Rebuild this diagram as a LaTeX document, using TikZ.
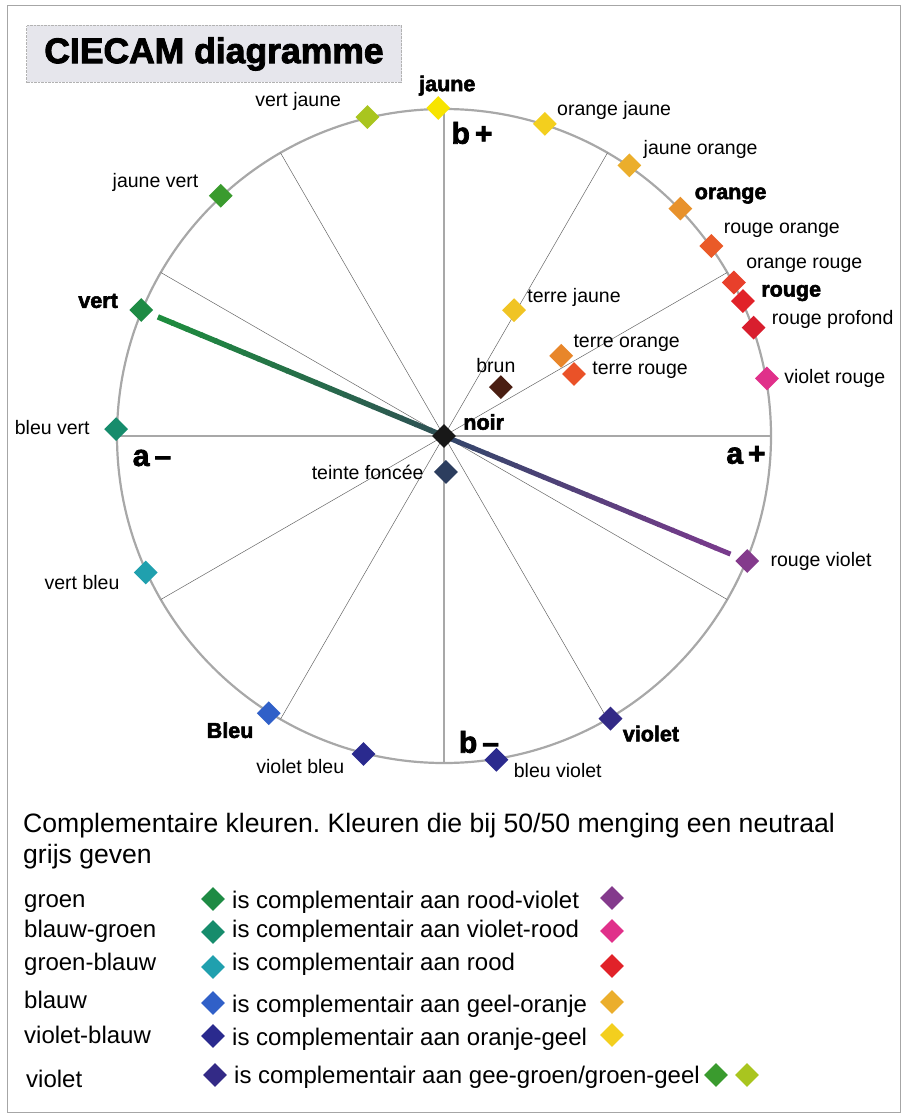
\documentclass[tikz,border=0pt]{standalone}
\usepackage{fontspec}
\setmainfont{Liberation Sans}
\newfontfamily\heavyfont[FakeBold=2.5]{Liberation Sans Bold}
\usetikzlibrary{shapes.geometric,positioning,calc,backgrounds}

\definecolor{cJaune}{HTML}{F7E400}
\definecolor{cVertJaune}{HTML}{A9C51F}
\definecolor{cJauneVert}{HTML}{3A9B2E}
\definecolor{cVert}{HTML}{1E8B44}
\definecolor{cBleuVert}{HTML}{168C6C}
\definecolor{cVertBleu}{HTML}{20A0AE}
\definecolor{cBleu}{HTML}{3060C8}
\definecolor{cVioletBleu}{HTML}{2A2A8E}
\definecolor{cBleuViolet}{HTML}{2C2B8E}
\definecolor{cViolet}{HTML}{332A86}
\definecolor{cRougeViolet}{HTML}{843A8C}
\definecolor{cVioletRouge}{HTML}{E0308A}
\definecolor{cRougeProfond}{HTML}{D81E2E}
\definecolor{cRouge}{HTML}{E12229}
\definecolor{cOrangeRouge}{HTML}{E8402B}
\definecolor{cRougeOrange}{HTML}{EA5A28}
\definecolor{cOrange}{HTML}{E8922C}
\definecolor{cJauneOrange}{HTML}{EBAE2C}
\definecolor{cOrangeJaune}{HTML}{F3CF1E}
\definecolor{cTerreJaune}{HTML}{F0C424}
\definecolor{cTerreOrange}{HTML}{E8862A}
\definecolor{cTerreRouge}{HTML}{EA5228}
\definecolor{cBrun}{HTML}{4A1E12}
\definecolor{cNoir}{HTML}{181818}
\definecolor{cTeinte}{HTML}{2C3D5E}
\definecolor{cAxis}{HTML}{A8A8A8}
\definecolor{cTitel}{HTML}{E6E6EC}
\definecolor{gVert}{HTML}{1E8C3E}
\definecolor{gGris}{HTML}{2F4E55}
\definecolor{gSlate}{HTML}{34466A}
\definecolor{gPurple}{HTML}{7C3A8E}

\tikzstyle{dia} = [diamond, aspect=1, minimum width=24pt, minimum height=24pt, inner sep=0pt]
\tikzstyle{lbl} = [inner sep=0pt, font=\fontsize{19.5}{22}\selectfont]
\tikzstyle{blbl} = [inner sep=0pt, font=\heavyfont\fontsize{21.5}{24}\selectfont]
\tikzstyle{axlbl} = [inner sep=0pt, font=\heavyfont\fontsize{30}{32}\selectfont]
\tikzstyle{axis} = [draw=cAxis, line width=2.2pt]
\tikzstyle{spoke} = [draw=black!60, line width=0.5pt]
\tikzstyle{leg} = [inner sep=0pt, anchor=base west, font=\fontsize{24}{28}\selectfont]
\tikzstyle{kopstijl} = [inner sep=0pt, anchor=base west, font=\fontsize{26.6}{31}\selectfont]
\tikzstyle{titlebox} = [rectangle, draw=gray!60, densely dotted, fill=cTitel,
  minimum width=375pt, minimum height=57pt, font=\heavyfont\fontsize{35.5}{38}\selectfont]

\begin{document}
\frenchspacing
\begin{tikzpicture}[x=1pt, y=1pt, node distance=6pt]
\useasboundingbox (0,0) rectangle (906,-1115);
\draw[gray!70] (7,-5) rectangle (900,-1112);

\node [titlebox] (titel) at (214,-54) {CIECAM diagramme};

% kleurcirkel
\def\R{328}
\node [dia, fill=cNoir] (noir) at (444,-436) {};
\node [dia, fill=cJaune] (jaune) at ($(noir)+(91:\R)$) {};
\node [dia, fill=cVertJaune] (vj) at ($(noir)+(103.5:\R)$) {};
\node [dia, fill=cJauneVert] (jv) at ($(noir)+(132.9:\R)$) {};
\node [dia, fill=cVert] (vert) at ($(noir)+(157.4:\R)$) {};
\node [dia, fill=cBleuVert] (bv) at ($(noir)+(178.8:\R)$) {};
\node [dia, fill=cVertBleu] (vb) at ($(noir)+(204.6:\R)$) {};
\node [dia, fill=cBleu] (bleu) at ($(noir)+(237.7:\R)$) {};
\node [dia, fill=cVioletBleu] (vlb) at ($(noir)+(255.8:\R)$) {};
\node [dia, fill=cBleuViolet] (blv) at ($(noir)+(279.2:\R)$) {};
\node [dia, fill=cViolet] (violet) at ($(noir)+(300.5:\R)$) {};
\node [dia, fill=cRougeViolet] (rv) at ($(noir)+(337.6:\R)$) {};
\node [dia, fill=cVioletRouge] (vr) at ($(noir)+(10.1:\R)$) {};
\node [dia, fill=cRougeProfond] (rp) at ($(noir)+(19.3:\R)$) {};
\node [dia, fill=cRouge] (rouge) at ($(noir)+(24.3:\R)$) {};
\node [dia, fill=cOrangeRouge] (or) at ($(noir)+(27.9:\R)$) {};
\node [dia, fill=cRougeOrange] (ro) at ($(noir)+(35.4:\R)$) {};
\node [dia, fill=cOrange] (orange) at ($(noir)+(43.9:\R)$) {};
\node [dia, fill=cJauneOrange] (jo) at ($(noir)+(55.6:\R)$) {};
\node [dia, fill=cOrangeJaune] (oj) at ($(noir)+(72.1:\R)$) {};
\node [dia, fill=cTerreJaune] (tj) at ($(noir)+(60.9:144)$) {};
\node [dia, fill=cTerreOrange] (to) at ($(noir)+(34.4:142)$) {};
\node [dia, fill=cTerreRouge] (tr) at ($(noir)+(25.5:144)$) {};
\node [dia, fill=cBrun] (brun) at ($(noir)+(40.7:75)$) {};
\node [dia, fill=cTeinte] (tf) at ($(noir)+(273:36)$) {};

\node [blbl, above=0pt of jaune, xshift=9pt] (jaune-l) {jaune};
\node [lbl, left=14pt of vj, yshift=16pt] (vj-l) {vert jaune};
\node [lbl, left=10pt of jv, yshift=13pt] (jv-l) {jaune vert};
\node [blbl, left=11pt of vert, yshift=9pt] (vert-l) {vert};
\node [lbl, left=14pt of bv, yshift=2pt] (bv-l) {bleu vert};
\node [lbl, left=14pt of vb, yshift=-10pt] (vb-l) {vert bleu};
\node [blbl, left=3pt of bleu, yshift=-17pt] (bleu-l) {Bleu};
\node [lbl, left=7pt of vlb, yshift=-13pt] (vlb-l) {violet bleu};
\node [lbl, right=5pt of blv, yshift=-11pt] (blv-l) {bleu violet};
\node [blbl, right=0pt of violet, yshift=-15pt] (violet-l) {violet};
\node [lbl, right=11pt of rv] (rv-l) {rouge violet};
\node [lbl, right=5pt of vr] (vr-l) {violet rouge};
\node [lbl, right=6pt of rp, yshift=8pt] (rp-l) {rouge profond};
\node [blbl, right=6pt of rouge, yshift=8pt] (rouge-l) {rouge};
\node [lbl, right=0pt of or, yshift=17pt] (or-l) {orange rouge};
\node [lbl, right=0pt of ro, yshift=16pt] (ro-l) {rouge orange};
\node [blbl, right=2pt of orange, yshift=13pt] (orange-l) {orange};
\node [lbl, right=2pt of jo, yshift=16pt] (jo-l) {jaune orange};
\node [lbl, right=0pt of oj, yshift=13pt] (oj-l) {orange jaune};
\node [lbl, right=1pt of tj, yshift=13pt] (tj-l) {terre jaune};
\node [lbl, right=0pt of to, yshift=13pt] (to-l) {terre orange};
\node [lbl, right=6pt of tr, yshift=4pt] (tr-l) {terre rouge};
\node [lbl, above=2pt of brun, xshift=-5pt] (brun-l) {brun};
\node [blbl, right=7pt of noir, yshift=14pt] (noir-l) {noir};
\node [lbl, left=10pt of tf] (tf-l) {teinte foncée};

% assen
\coordinate (aplus) at ($(noir)+(0:327)$);
\coordinate (amin) at ($(noir)+(180:327)$);
\coordinate (bplus) at ($(noir)+(90:327)$);
\coordinate (bmin) at ($(noir)+(270:327)$);
\node [axlbl] (bplus-l) at ($(bplus)+(28,-24)$) {b\,+};
\node [axlbl] (amin-l) at ($(amin)+(35,-22)$) {a\,–};
\node [axlbl] (aplus-l) at ($(aplus)+(-25,-19)$) {a\,+};
\node [axlbl] (bmin-l) at ($(bmin)+(35,21)$) {b\,–};

\begin{pgfonlayer}{background}
\draw [axis] (noir.center) circle (327);
\draw [axis] (amin) -- (aplus);
\draw [axis] (bplus) -- (bmin);
\foreach \a in {30,60,120,150,210,240,300,330}
  \draw [spoke] (noir.center) -- ($(noir)+(\a:327)$);
\coordinate (vstart) at ($(vert)!0.055!(noir)$);
\coordinate (rvend) at ($(noir)!0.94!(rv)$);
\foreach \i [evaluate=\i as \p using int(100-5*\i)] in {0,...,19} {
  \draw [line width=5.5pt, gVert!\p!gGris] ($(vstart)!\i/20!(noir)$) -- ($(vstart)!\i/20+0.055!(noir)$);
  \draw [line width=5pt, gSlate!\p!gPurple] ($(noir)!\i/20!(rvend)$) -- ($(noir)!\i/20+0.055!(rvend)$);
}
\end{pgfonlayer}

% complementaire kleuren
\node [kopstijl] (kop1) at (23,-832) {Complementaire kleuren. Kleuren die bij 50/50 menging een neutraal};
\node [kopstijl] (kop2) at ($(kop1.base west)+(0,-31)$) {grijs geven};

\foreach \i/\naam/\yn/\yt/\yd/\cl/\tekst/\cr in {
  1/groen/907/908/899/cVert/rood-violet/cRougeViolet,
  2/blauw-groen/937/937/932/cBleuVert/violet-rood/cVioletRouge,
  3/groen-blauw/970/970/967/cVertBleu/rood/cRouge,
  4/blauw/1008/1012/1003/cBleu/geel-oranje/cJauneOrange,
  5/violet-blauw/1043/1045/1036/cVioletBleu/oranje-geel/cOrangeJaune} {
  \node [leg] (naam\i) at (24,-\yn) {\naam};
  \node [dia, fill=\cl] (ldia\i) at (213,-\yd) {};
  \node [leg] (tekst\i) at (232,-\yt) {is complementair aan \tekst};
  \node [dia, fill=\cr] (rdia\i) at (612,-\yd+1) {};
}
\node [leg] (naam6) at (26,-1087) {violet};
\node [dia, fill=cViolet] (ldia6) at (215,-1075) {};
\node [leg] (tekst6) at (234,-1083) {is complementair aan gee-groen/groen-geel};
\node [dia, fill=cJauneVert] (rdia6) at (716,-1075) {};
\node [dia, fill=cVertJaune] (rdia7) at (747,-1075) {};
\end{tikzpicture}
\end{document}
